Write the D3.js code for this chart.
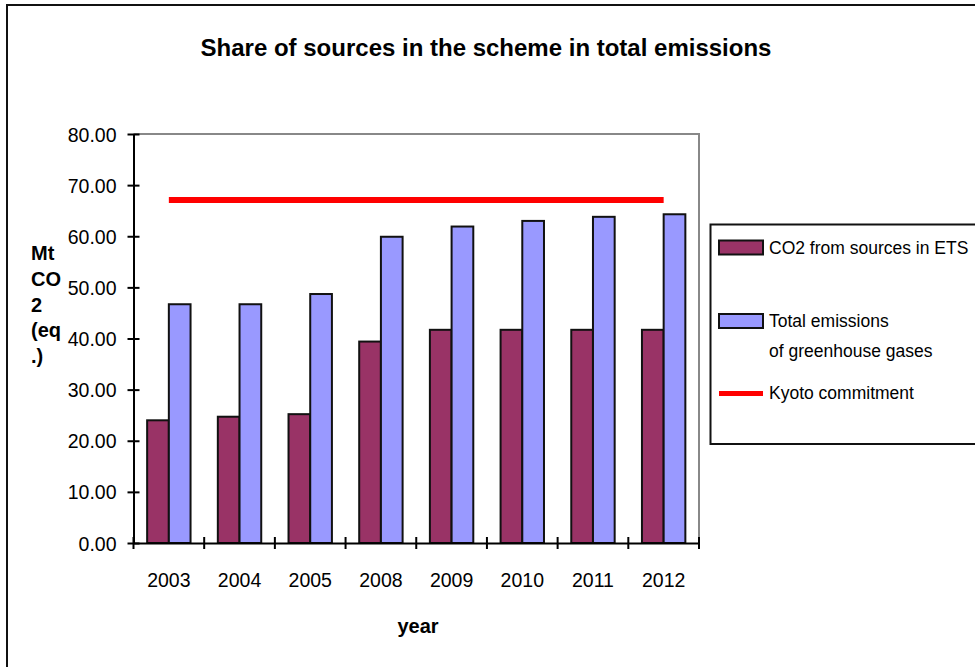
<html>
<head>
<script src="https://cdn.jsdelivr.net/npm/d3@7"></script>
<style>
  body { margin: 0; background: #fff; }
  text { font-family: "Liberation Sans", Arial, sans-serif; }
</style>
</head>
<body>
<div id="chart"></div>
<script>
  var years = ["2003", "2004", "2005", "2008", "2009", "2010", "2011", "2012"];
  var etsValues = [24.0, 24.7, 25.2, 39.4, 41.7, 41.7, 41.7, 41.7];
  var totalValues = [46.7, 46.7, 48.7, 59.9, 61.9, 63.0, 63.8, 64.3];
  var kyotoValue = 67.1;
  var yTicks = [0, 10, 20, 30, 40, 50, 60, 70, 80];

  var width = 975, height = 667;
  var svg = d3.select("#chart").append("svg")
      .attr("width", width)
      .attr("height", height);

  // outer frame (runs off the right and bottom edge)
  svg.append("rect")
      .attr("x", 7).attr("y", 5)
      .attr("width", 1000).attr("height", 700)
      .style("fill", "none")
      .style("stroke", "#111")
      .style("stroke-width", 2);

  // chart title
  svg.append("text")
      .attr("x", 486)
      .attr("y", 56)
      .attr("text-anchor", "middle")
      .style("font-size", "24px")
      .style("font-weight", "bold")
      .text("Share of sources in the scheme in total emissions");

  // plot area (named so they don't clash with window.top)
  var plotLeft = 133.5, plotRight = 699, plotTop = 134, plotBottom = 543;

  var x = d3.scaleBand().domain(years).range([plotLeft, plotRight]);
  var y = d3.scaleLinear().domain([0, 80]).range([plotBottom, plotTop]);
  var barW = x.bandwidth() * 0.307;

  // plot area border (grey top and right)
  svg.append("path")
      .attr("d", "M" + plotLeft + "," + plotTop + "H" + plotRight + "V" + plotBottom)
      .style("fill", "none")
      .style("stroke", "#888")
      .style("stroke-width", 2);

  // ETS bars
  svg.selectAll("rect.ets")
      .data(etsValues)
      .enter()
      .append("rect")
      .attr("class", "ets")
      .attr("x", function (d, i) { return x(years[i]) + x.bandwidth() / 2 - barW; })
      .attr("y", function (d) { return y(d); })
      .attr("width", barW)
      .attr("height", function (d) { return y(0) - y(d); })
      .style("fill", "#993366")
      .style("stroke", "#111")
      .style("stroke-width", 2);

  // Total bars
  svg.selectAll("rect.total")
      .data(totalValues)
      .enter()
      .append("rect")
      .attr("class", "total")
      .attr("x", function (d, i) { return x(years[i]) + x.bandwidth() / 2; })
      .attr("y", function (d) { return y(d); })
      .attr("width", barW)
      .attr("height", function (d) { return y(0) - y(d); })
      .style("fill", "#9999ff")
      .style("stroke", "#111")
      .style("stroke-width", 2);

  // Kyoto commitment line
  svg.append("line")
      .attr("x1", x(years[0]) + x.bandwidth() / 2)
      .attr("x2", x(years[years.length - 1]) + x.bandwidth() / 2)
      .attr("y1", y(kyotoValue))
      .attr("y2", y(kyotoValue))
      .style("stroke", "#ff0000")
      .style("stroke-width", 6);

  // y axis
  var yAxis = d3.axisLeft(y)
      .tickValues(yTicks)
      .tickFormat(d3.format(".2f"))
      .tickSizeInner(6)
      .tickSizeOuter(0)
      .tickPadding(11);
  var gy = svg.append("g")
      .attr("transform", "translate(" + plotLeft + ",0)")
      .call(yAxis);
  gy.select(".domain").style("stroke", "#000").style("stroke-width", 2);
  gy.selectAll(".tick line").attr("x1", 6).attr("x2", -6)
      .style("stroke", "#000").style("stroke-width", 2);
  gy.selectAll(".tick text")
      .style("font-size", "19.5px")
      .style("font-family", "'Liberation Sans', Arial, sans-serif")
      .attr("dy", "0.36em")
      .style("fill", "#000");

  // x axis, ticks sit at the category boundaries
  var xAxis = d3.axisBottom(x).tickSize(0).tickPadding(30);
  var gx = svg.append("g")
      .attr("transform", "translate(0," + plotBottom + ")")
      .call(xAxis);
  gx.select(".domain").style("stroke", "#000").style("stroke-width", 2);
  gx.selectAll(".tick text")
      .style("font-size", "19.5px")
      .style("font-family", "'Liberation Sans', Arial, sans-serif")
      .style("fill", "#000");
  var bounds = years.map(function (d) { return x(d); }).concat([plotRight]);
  gx.selectAll("line.sep")
      .data(bounds)
      .enter()
      .append("line")
      .attr("class", "sep")
      .attr("x1", function (d) { return d; })
      .attr("x2", function (d) { return d; })
      .attr("y1", -6)
      .attr("y2", 6)
      .style("stroke", "#000")
      .style("stroke-width", 2);

  // axis titles
  svg.append("text")
      .attr("x", 418)
      .attr("y", 633)
      .attr("text-anchor", "middle")
      .style("font-size", "20px")
      .style("font-weight", "bold")
      .text("year");

  svg.selectAll("text.ytitle")
      .data(["Mt", "CO", "2", "(eq", ".)"])
      .enter()
      .append("text")
      .attr("class", "ytitle")
      .attr("x", 31)
      .attr("y", function (d, i) { return 260 + i * 25.8; })
      .style("font-size", "20px")
      .style("font-weight", "bold")
      .text(function (d) { return d; });

  // legend
  svg.append("rect")
      .attr("x", 710.5).attr("y", 224.5)
      .attr("width", 300).attr("height", 219.5)
      .style("fill", "#fff")
      .style("stroke", "#111")
      .style("stroke-width", 2);

  svg.append("rect")
      .attr("x", 719).attr("y", 240.5)
      .attr("width", 44).attr("height", 14)
      .style("fill", "#993366")
      .style("stroke", "#111")
      .style("stroke-width", 2);
  svg.append("rect")
      .attr("x", 719).attr("y", 314)
      .attr("width", 44).attr("height", 14)
      .style("fill", "#9999ff")
      .style("stroke", "#111")
      .style("stroke-width", 2);
  svg.append("line")
      .attr("x1", 719).attr("x2", 763)
      .attr("y1", 393.5).attr("y2", 393.5)
      .style("stroke", "#ff0000")
      .style("stroke-width", 5);

  var legendLines = [
    ["CO2 from sources in ETS", 254],
    ["Total emissions", 327],
    ["of greenhouse gases", 357],
    ["Kyoto commitment", 399]
  ];
  svg.selectAll("text.leg")
      .data(legendLines)
      .enter()
      .append("text")
      .attr("class", "leg")
      .attr("x", 769)
      .attr("y", function (d) { return d[1]; })
      .style("font-size", "17.5px")
      .text(function (d) { return d[0]; });
</script>
</body>
</html>
